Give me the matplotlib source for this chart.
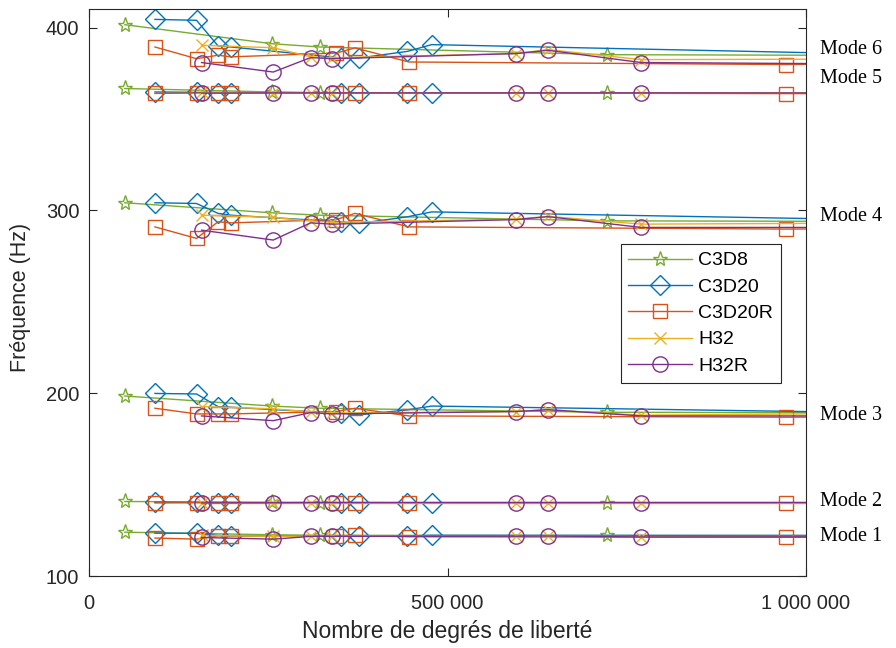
import matplotlib.pyplot as plt
from matplotlib.ticker import FuncFormatter
import matplotlib.transforms as mtransforms

# degrees of freedom for each element type (last point lies beyond the axis limit)
x_c3d8 = [50000, 255000, 322000, 722000, 1100000]
x_c3d20 = [92000, 150000, 180000, 198000, 351000, 377000, 444000, 478000, 1100000]
x_c3d20r = [92000, 150000, 180000, 198000, 345000, 371000, 446000, 972000, 1100000]
x_h32 = [157000, 257000, 309000, 339000, 596000, 640000, 770000, 1100000]
x_h32r = [157000, 257000, 309000, 339000, 596000, 640000, 770000, 1100000]

# frequencies (Hz), one list per mode
c3d8 = [
    [124.0, 122.6, 122.3, 122.2, 122.2],
    [140.8, 140.3, 140.2, 140.2, 140.2],
    [198.5, 193.0, 191.8, 189.6, 189.3],
    [304.2, 298.7, 297.4, 294.3, 294.0],
    [366.7, 364.8, 364.4, 364.3, 364.3],
    [401.6, 391.2, 389.4, 385.2, 384.8],
]
c3d20 = [
    [123.5, 123.4, 122.2, 122.0, 121.8, 121.8, 122.0, 122.3, 122.2],
    [140.4, 140.3, 140.2, 140.2, 140.2, 140.2, 140.2, 140.2, 140.2],
    [199.9, 199.6, 192.7, 192.3, 189.1, 188.2, 190.9, 193.0, 189.4],
    [304.2, 303.8, 298.4, 297.4, 293.8, 292.9, 296.5, 299.2, 294.9],
    [364.8, 364.6, 364.5, 364.5, 364.4, 364.4, 364.4, 364.4, 364.3],
    [404.5, 404.0, 390.0, 389.4, 383.4, 383.4, 387.0, 390.7, 385.5],
]
c3d20r = [
    [120.8, 120.2, 122.0, 122.0, 122.0, 122.2, 121.5, 121.2, 121.3],
    [140.0, 140.1, 140.2, 140.2, 140.2, 140.2, 140.1, 140.1, 140.1],
    [191.8, 188.7, 188.7, 188.7, 190.0, 191.8, 187.6, 186.9, 187.2],
    [291.0, 284.7, 293.8, 293.2, 295.0, 298.4, 291.0, 289.8, 290.0],
    [364.0, 364.2, 364.3, 364.3, 364.3, 364.3, 364.3, 363.9, 363.9],
    [389.4, 383.0, 384.9, 384.0, 386.1, 388.9, 381.2, 379.8, 380.3],
]
h32 = [
    [122.2, 121.8, 121.8, 121.8, 121.8, 121.9, 121.6, 121.7],
    [140.2, 140.2, 140.2, 140.2, 140.2, 140.2, 140.2, 140.2],
    [192.7, 191.5, 189.8, 189.2, 190.0, 191.0, 188.0, 189.0],
    [297.4, 296.2, 294.2, 293.5, 295.2, 296.8, 292.5, 293.1],
    [364.6, 364.5, 364.4, 364.4, 364.3, 364.3, 364.3, 364.3],
    [390.3, 389.0, 384.0, 383.5, 385.8, 388.0, 382.5, 382.8],
]
h32r = [
    [121.1, 120.2, 121.7, 121.7, 121.8, 121.9, 121.4, 121.5],
    [140.0, 140.1, 140.2, 140.2, 140.2, 140.2, 140.2, 140.2],
    [187.6, 185.0, 189.4, 188.7, 190.0, 191.0, 187.6, 187.6],
    [289.2, 283.8, 293.2, 292.5, 295.0, 296.6, 290.7, 290.7],
    [364.2, 364.3, 364.3, 364.3, 364.3, 364.3, 364.3, 364.2],
    [380.9, 375.7, 383.6, 383.0, 385.8, 387.6, 380.9, 380.1],
]

mode_labels = ["Mode 1", "Mode 2", "Mode 3", "Mode 4", "Mode 5", "Mode 6"]
mode_label_y = [121.5, 140.6, 188.1, 296.9, 372.0, 388.0]

plt.rcParams["font.family"] = ["Liberation Sans", "DejaVu Sans"]

series = [
    ("C3D8", x_c3d8, c3d8, "#77AC30", "*", 11),
    ("C3D20", x_c3d20, c3d20, "#0072BD", "D", 10),
    ("C3D20R", x_c3d20r, c3d20r, "#D95319", "s", 10),
    ("H32", x_h32, h32, "#EDB120", "x", 8),
    ("H32R", x_h32r, h32r, "#7E2F8E", "o", 11),
]

fig = plt.figure(figsize=(8.96, 6.48), dpi=100)
ax = fig.add_axes([0.0993, 0.111, 0.8003, 0.8746])

for name, xs, modes, color, marker, ms in series:
    for i, ys in enumerate(modes):
        ax.plot(xs, ys, color=color, marker=marker, markersize=ms,
                markerfacecolor="none", markeredgecolor=color,
                markeredgewidth=1.0, linewidth=1.0,
                label=name if i == 0 else None)

ax.set_xlim(0, 1000000)
ax.set_ylim(100, 410)
ax.set_xticks([0, 500000, 1000000])
ax.set_yticks([100, 200, 300, 400])
ax.xaxis.set_major_formatter(FuncFormatter(lambda v, p: f"{int(v):,}".replace(",", " ")))
ax.tick_params(direction="in", top=True, right=True, length=6, width=0.8,
               colors="#262626", labelsize=14.5, labelcolor="#262626")
ax.tick_params(axis="x", pad=13)
ax.tick_params(axis="y", pad=7)
for s in ax.spines.values():
    s.set_color("#262626")
    s.set_linewidth(0.8)

ax.set_xlabel("Nombre de degrés de liberté", fontsize=16.5, color="#262626", labelpad=5)
ax.set_ylabel("Fréquence (Hz)", fontsize=15.5, color="#262626")
ax.yaxis.set_label_coords(-0.081, 0.492)

trans = mtransforms.blended_transform_factory(ax.transAxes, ax.transData)
for lab, yv in zip(mode_labels, mode_label_y):
    ax.text(1.0195, yv, lab, transform=trans, ha="left", va="center",
            fontsize=14.5, family=["Liberation Serif", "DejaVu Serif"], color="black")

leg = ax.legend(loc="upper right", bbox_to_anchor=(0.965, 0.586), fontsize=14,
                handlelength=3.3, handletextpad=0.3, labelspacing=0.45,
                borderpad=0.4, borderaxespad=0, fancybox=False, framealpha=1)
leg.get_frame().set_edgecolor("#262626")
leg.get_frame().set_linewidth(0.8)

plt.savefig("out.png", dpi=100)
